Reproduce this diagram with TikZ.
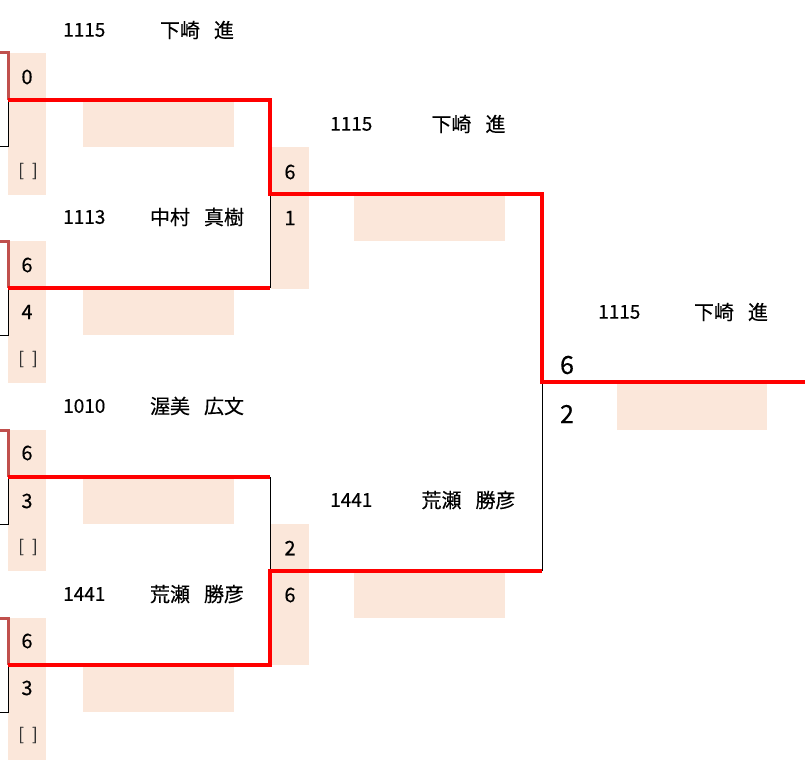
\documentclass[tikz,border=0pt]{standalone}
\usepackage{fontspec}
\setmainfont{Noto Sans CJK JP}[FakeBold=0.35]
\definecolor{peach}{HTML}{FBE7DA}
\definecolor{prevred}{HTML}{C0504D}
\definecolor{winred}{HTML}{FF0000}
\newcommand{\gap}{\hspace{14pt}}
\tikzset{
  pbox/.style={fill=peach, draw=none, inner sep=0pt, outer sep=0pt},
  winline/.style={draw=winred, line width=3.2pt, line cap=butt},
  loseline/.style={draw=black, line width=1pt},
  prevline/.style={draw=prevred, line width=3pt},
  idtxt/.style={anchor=west, font=\fontsize{19}{19}\selectfont, inner sep=0pt},
  nametxt/.style={anchor=center, font=\fontsize{20}{20}\selectfont, inner sep=0pt},
  score/.style={anchor=center, font=\fontsize{20}{20}\selectfont, inner sep=0pt},
  bigscore/.style={anchor=center, font=\fontsize{25}{25}\selectfont, inner sep=0pt},
  brk/.style={anchor=center, font=\fontsize{17}{17}\selectfont, text=black!80, inner sep=0pt}
}
\begin{document}
\begin{tikzpicture}[x=1pt,y=-1pt]
\useasboundingbox (0,0) rectangle (811,765);
% peach boxes, column 1
\node[pbox, minimum width=38pt, minimum height=142pt] (c1a) at (27,124) {};
\node[pbox, minimum width=38pt, minimum height=142pt] (c1b) at (27,312) {};
\node[pbox, minimum width=38pt, minimum height=141pt] (c1c) at (27,500.5) {};
\node[pbox, minimum width=38pt, minimum height=142pt] (c1d) at (27,689) {};
% name-row boxes round 1
\node[pbox, minimum width=151pt, minimum height=46pt] (n1a) at (158.5,124) {};
\node[pbox, minimum width=151pt, minimum height=46pt] (n1b) at (158.5,312) {};
\node[pbox, minimum width=151pt, minimum height=47pt] (n1c) at (158.5,500.5) {};
\node[pbox, minimum width=151pt, minimum height=47pt] (n1d) at (158.5,688.5) {};
% round 2 columns
\node[pbox, minimum width=38pt, minimum height=142pt] (c2a) at (290,218) {};
\node[pbox, minimum width=38pt, minimum height=141pt] (c2b) at (290,594.5) {};
\node[pbox, minimum width=151pt, minimum height=46pt] (n2a) at (429.5,218) {};
\node[pbox, minimum width=151pt, minimum height=47pt] (n2b) at (429.5,594.5) {};
% final
\node[pbox, minimum width=150pt, minimum height=47pt] (n3) at (692,406.5) {};

% coordinates
\coordinate (a0) at (0,53);   \coordinate (a1) at (8,53);   \coordinate (a2) at (8,100);
\coordinate (a3) at (8,147);  \coordinate (a4) at (0,147);
\coordinate (b0) at (0,241);  \coordinate (b1) at (8,241);  \coordinate (b2) at (8,288);
\coordinate (b3) at (8,335);  \coordinate (b4) at (0,335);
\coordinate (c0) at (0,430);  \coordinate (c1) at (8,430);  \coordinate (c2) at (8,477);
\coordinate (c3) at (8,524);  \coordinate (c4) at (0,524);
\coordinate (d0) at (0,618);  \coordinate (d1) at (8,618);  \coordinate (d2) at (8,665);
\coordinate (d3) at (8,712);  \coordinate (d4) at (0,712);
\coordinate (ra1) at (270,100); \coordinate (ra2) at (270,194); \coordinate (rb) at (270,288);
\coordinate (rc) at (270,477); \coordinate (rd1) at (270,665); \coordinate (rd2) at (270,571);
\coordinate (s1) at (542,194); \coordinate (s2) at (542,382); \coordinate (s3) at (542,571);
\coordinate (fin) at (805,382);

% losing (black) lines
\draw[loseline] (a2) -- (a3) -- (a4);
\draw[loseline] (b2) -- (b3) -- (b4);
\draw[loseline] (c2) -- (c3) -- (c4);
\draw[loseline] (d2) -- (d3) -- (d4);
\draw[loseline] (ra2) -- (rb);
\draw[loseline] (rc) -- (rd2);
\draw[loseline] (s2) -- (s3);
% previous-round lines
\draw[prevline] (a0) -- (a1) -- (a2);
\draw[prevline] (b0) -- (b1) -- (b2);
\draw[prevline] (c0) -- (c1) -- (c2);
\draw[prevline] (d0) -- (d1) -- (d2);
% winning (red) lines
\draw[winline] (a2) -- (ra1) -- (ra2) -- (s1) -- (s2) -- (fin);
\draw[winline] (b2) -- (rb);
\draw[winline] (c2) -- (rc);
\draw[winline] (d2) -- (rd1) -- (rd2) -- (s3);

% texts round 1
\node[idtxt] (id1) at (63,30) {1115};
\node[nametxt] (nm1) at (197,30) {下崎\gap 進};
\node[idtxt] (id2) at (63,217) {1113};
\node[nametxt] (nm2) at (197,217) {中村\gap 真樹};
\node[idtxt] (id3) at (63,406) {1010};
\node[nametxt] (nm3) at (197,406) {渥美\gap 広文};
\node[idtxt] (id4) at (63,594) {1441};
\node[nametxt] (nm4) at (197,594) {荒瀬\gap 勝彦};
% scores round 1
\node[score] (sa1) at (27,77) {0};
\node[brk] (ba) at (28,171) {[\hspace{8pt}]};
\node[score] (sb1) at (27,265) {6};
\node[score] (sb2) at (27,312) {4};
\node[brk] (bb) at (28,359) {[\hspace{8pt}]};
\node[score] (sc1) at (27,453) {6};
\node[score] (sc2) at (27,501) {3};
\node[brk] (bc) at (28,547) {[\hspace{8pt}]};
\node[score] (sd1) at (27,641) {6};
\node[score] (sd2) at (27,688) {3};
\node[brk] (bd) at (28,735) {[\hspace{8pt}]};
% round 2
\node[idtxt] (id5) at (330,124) {1115};
\node[nametxt] (nm5) at (468.5,124) {下崎\gap 進};
\node[idtxt] (id6) at (330,500) {1441};
\node[nametxt] (nm6) at (468.5,500) {荒瀬\gap 勝彦};
\node[score] (se1) at (290,172) {6};
\node[score] (se2) at (290,218) {1};
\node[score] (sf1) at (290,548) {2};
\node[score] (sf2) at (290,595) {6};
% final
\node[idtxt] (id7) at (598,312) {1115};
\node[nametxt] (nm7) at (731,312) {下崎\gap 進};
\node[bigscore] (sg1) at (567,365) {6};
\node[bigscore] (sg2) at (567,414) {2};
\end{tikzpicture}
\end{document}
